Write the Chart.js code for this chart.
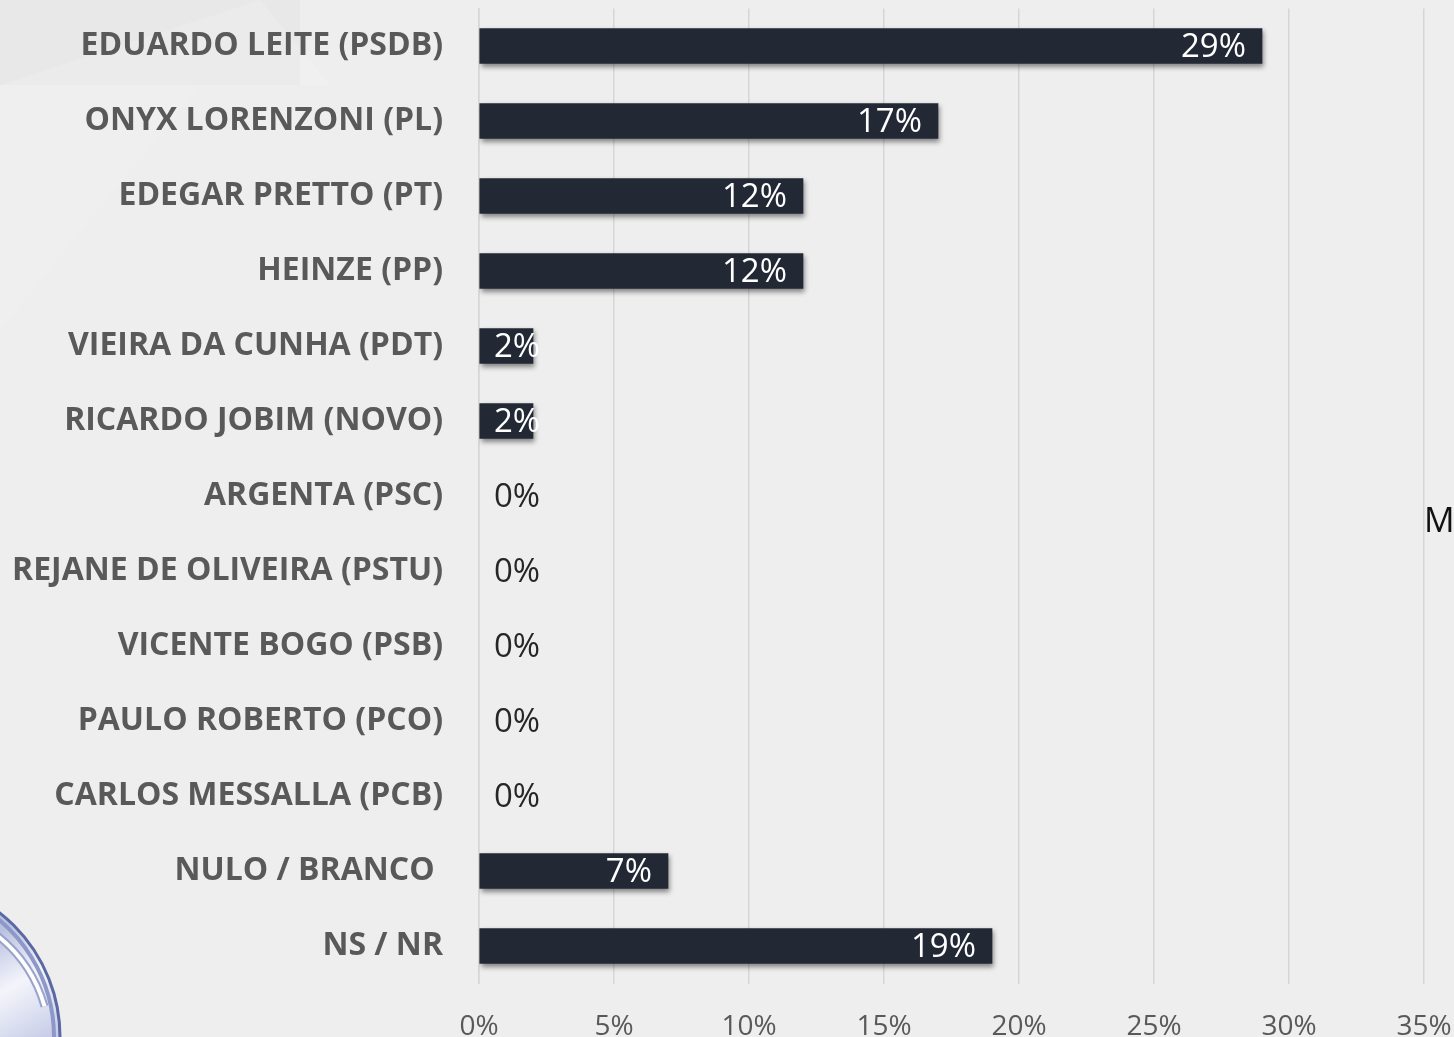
<!DOCTYPE html>
<html>
<head>
<meta charset="utf-8">
<script src="https://cdn.jsdelivr.net/npm/chart.js@4"></script>
<style>
  html, body { margin: 0; padding: 0; background: #eeeeee; }
  #wrap { width: 1454px; height: 1037px; position: relative; }
</style>
</head>
<body>
<div id="wrap"><canvas id="bar-chart" width="1454" height="1037"></canvas></div>
<script>
const candidates = [
  "EDUARDO LEITE (PSDB)", "ONYX LORENZONI (PL)", "EDEGAR PRETTO (PT)", "HEINZE (PP)",
  "VIEIRA DA CUNHA (PDT)", "RICARDO JOBIM (NOVO)", "ARGENTA (PSC)", "REJANE DE OLIVEIRA (PSTU)",
  "VICENTE BOGO (PSB)", "PAULO ROBERTO (PCO)", "CARLOS MESSALLA (PCB)", "NULO / BRANCO ", "NS / NR"
];
const votes = [29, 17, 12, 12, 2, 2, 0, 0, 0, 0, 0, 7, 19];
const axisMin = 0;
const axisMax = 35;
const axisStep = 5;

// backdrop: light grey with faint facets, plus the cut-off logo and stray "M"
const backdrop = {
  id: "backdrop",
  beforeDraw(chart) {
    const ctx = chart.ctx;
    ctx.save();
    ctx.fillStyle = "#eeeeee";
    ctx.fillRect(0, 0, chart.width, chart.height);
    const facets = [
      ["rgba(0,0,0,0.025)", [[0,0],[300,0],[300,85],[0,85]]],
      ["rgba(255,255,255,0.15)", [[260,0],[330,85],[0,85]]],
      ["rgba(255,255,255,0.08)", [[0,85],[200,85],[0,330]]]
    ];
    facets.forEach(([c, pts]) => {
      ctx.fillStyle = c;
      ctx.beginPath();
      pts.forEach((p, i) => i ? ctx.lineTo(p[0], p[1]) : ctx.moveTo(p[0], p[1]));
      ctx.closePath();
      ctx.fill();
    });
    // logo fragment
    const g = ctx.createLinearGradient(0, 930, 60, 1037);
    g.addColorStop(0, "#b9c0e0");
    g.addColorStop(0.45, "#f4f5fb");
    g.addColorStop(1, "#c4cae6");
    ctx.beginPath();
    ctx.arc(-98, 1037, 158, 0, Math.PI * 2);
    ctx.fillStyle = g;
    ctx.fill();
    ctx.lineWidth = 3;
    ctx.strokeStyle = "#5a68a3";
    ctx.stroke();
    ctx.beginPath();
    ctx.arc(-98, 1037, 152, -1.1, 0);
    ctx.lineWidth = 4;
    ctx.strokeStyle = "#8d98c8";
    ctx.stroke();
    ctx.beginPath();
    ctx.arc(-90, 1045, 140, -0.95, -0.28);
    ctx.lineWidth = 8;
    ctx.strokeStyle = "#9aa3cc";
    ctx.stroke();
    ctx.beginPath();
    ctx.arc(-90, 1045, 140, -0.95, -0.28);
    ctx.lineWidth = 4;
    ctx.strokeStyle = "#ffffff";
    ctx.stroke();
    ctx.restore();
  },
  afterDraw(chart) {
    const ctx = chart.ctx;
    ctx.save();
    ctx.font = "34px 'Open Sans'";
    ctx.fillStyle = "#111111";
    ctx.textBaseline = "middle";
    ctx.fillText("M", 1424, 522);
    ctx.restore();
  }
};

const barShadow = {
  id: "barShadow",
  beforeDatasetDraw(chart) {
    const ctx = chart.ctx;
    ctx.save();
    ctx.shadowColor = "rgba(0,0,0,0.45)";
    ctx.shadowBlur = 5;
    ctx.shadowOffsetX = 2;
    ctx.shadowOffsetY = 3;
  },
  afterDatasetDraw(chart) {
    chart.ctx.restore();
  }
};

const valueLabels = {
  id: "valueLabels",
  afterDatasetsDraw(chart) {
    const ctx = chart.ctx;
    const meta = chart.getDatasetMeta(0);
    const x0 = chart.scales.x.getPixelForValue(0);
    ctx.save();
    ctx.font = "33px 'Open Sans'";
    ctx.textBaseline = "middle";
    ctx.textAlign = "left";
    meta.data.forEach((bar, i) => {
      const txt = votes[i] + "%";
      const w = ctx.measureText(txt).width;
      let left = bar.x - 16 - w;
      if (left < x0 + 15) left = x0 + 15;
      ctx.fillStyle = votes[i] > 0 ? "#ffffff" : "#262626";
      ctx.fillText(txt, left, bar.y + 2);
    });
    ctx.restore();
  }
};

new Chart(document.getElementById("bar-chart"), {
  type: "bar",
  data: {
    labels: candidates,
    datasets: [{
      data: votes,
      backgroundColor: c => votes[c.dataIndex] > 0 ? "#222935" : "rgba(0,0,0,0)",
      borderWidth: 0,
      barThickness: 35
    }]
  },
  options: {
    indexAxis: "y",
    responsive: false,
    animation: false,
    layout: { padding: { top: 8.5, right: 30, left: 0, bottom: 0 } },
    plugins: {
      legend: { display: false },
      tooltip: { enabled: false }
    },
    scales: {
      x: {
        min: axisMin,
        max: axisMax,
        ticks: {
          stepSize: axisStep,
          padding: 27,
          color: "#595959",
          font: { family: "'Open Sans'", size: 28 },
          callback: v => v + "%"
        },
        grid: { color: "#d6d6d6", lineWidth: 1.5, drawTicks: false },
        border: { display: false },
        afterFit(scale) {
          scale.height = 53.5;
          scale.paddingLeft = 0;
          scale.paddingRight = 0;
        }
      },
      y: {
        ticks: {
          padding: 36,
          color: "#595959",
          font: { family: "'Open Sans'", size: 32, weight: "bold" }
        },
        grid: { display: false, drawTicks: false },
        border: { display: true, color: "#d6d6d6", width: 1.5 },
        afterFit(scale) {
          scale.width = 479;
          scale.paddingTop = 0;
          scale.paddingBottom = 0;
        }
      }
    }
  },
  plugins: [backdrop, barShadow, valueLabels]
});
</script>
</body>
</html>
